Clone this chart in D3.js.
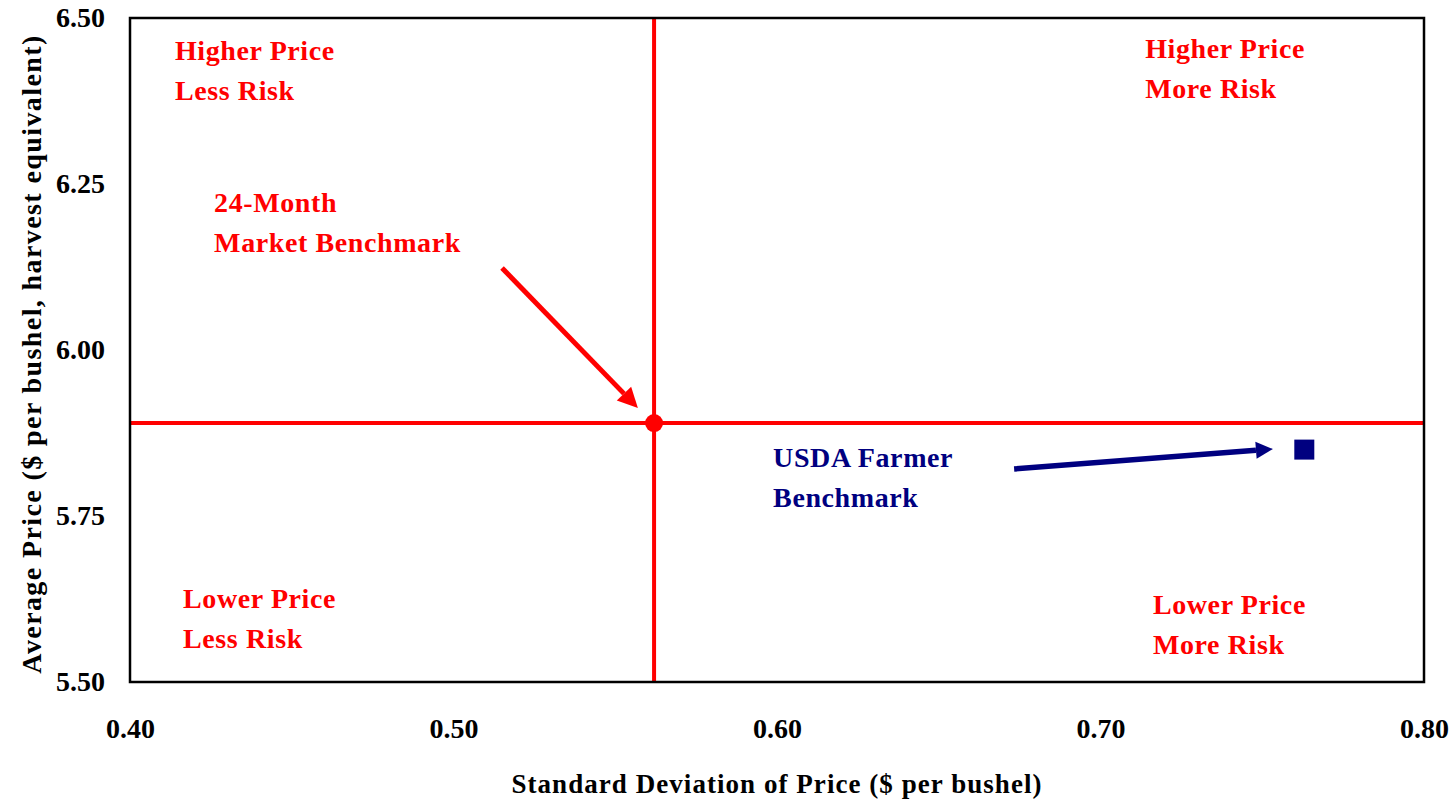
<!DOCTYPE html>
<html>
<head>
<meta charset="utf-8">
<script src="https://cdn.jsdelivr.net/npm/d3@7"></script>
<style>
  html, body { margin: 0; padding: 0; background: #fff; }
  svg { display: block; }
  text { font-family: "Liberation Serif", "Times New Roman", serif; font-weight: bold; }
</style>
</head>
<body>
<svg id="chart" width="1456" height="801"></svg>
<script>
// Axis ranges and tick labels
const xDomain = [0.40, 0.80];
const yDomain = [5.50, 6.50];
const xTicks = [0.40, 0.50, 0.60, 0.70, 0.80];
const yTicks = [5.50, 5.75, 6.00, 6.25, 6.50];

// Benchmarks: [standard deviation, average price]
const marketBenchmark = [0.562, 5.89];
const usdaBenchmark = [0.763, 5.85];

// Quadrant captions, anchored in data units (left edge, first baseline)
const quadrantLabels = [
  { lines: ["Higher Price", "Less Risk"], at: [0.4139, 6.437] },
  { lines: ["Higher Price", "More Risk"], at: [0.7138, 6.440] },
  { lines: ["Lower Price", "Less Risk"], at: [0.4164, 5.611] },
  { lines: ["Lower Price", "More Risk"], at: [0.7162, 5.602] }
];
const marketLabel = { lines: ["24-Month", "Market Benchmark"], at: [0.4260, 6.208] };
const usdaLabel = { lines: ["USDA Farmer", "Benchmark"], at: [0.5988, 5.824] };

// Pointer arrows: [from, to] in data units
const marketArrow = [[0.5150, 6.1235], [0.5570, 5.9127]];
const usdaArrow = [[0.6733, 5.8208], [0.7533, 5.8509]];

const RED = "#ff0000";
const NAVY = "#000080";

const svg = d3.select("#chart");
const plot = { left: 130, right: 1424, top: 18, bottom: 682 };

const x = d3.scaleLinear().domain(xDomain).range([plot.left, plot.right]);
const y = d3.scaleLinear().domain(yDomain).range([plot.bottom, plot.top]);

// Axes (labels only, no tick marks)
const xAxis = svg.append("g")
  .attr("transform", `translate(0,${plot.bottom})`)
  .call(d3.axisBottom(x).tickValues(xTicks).tickFormat(d3.format(".2f")).tickSize(0).tickPadding(36));
const yAxis = svg.append("g")
  .attr("transform", `translate(${plot.left},0)`)
  .call(d3.axisLeft(y).tickValues(yTicks).tickFormat(d3.format(".2f")).tickSize(0).tickPadding(25));
[xAxis, yAxis].forEach(g => {
  g.select(".domain").remove();
  g.selectAll("text")
    .attr("fill", "#000")
    .style("font-size", "28px")
    .style("font-family", '"Liberation Serif", "Times New Roman", serif')
    .style("font-weight", "bold");
});

// Axis titles
svg.append("text")
  .attr("x", (plot.left + plot.right) / 2)
  .attr("y", 793)
  .attr("text-anchor", "middle")
  .style("font-size", "27px")
  .style("letter-spacing", "1.05px")
  .text("Standard Deviation of Price ($ per bushel)");

svg.append("text")
  .attr("transform", `translate(41,${(plot.top + plot.bottom) / 2 + 4}) rotate(-90)`)
  .attr("text-anchor", "middle")
  .style("font-size", "28px")
  .style("letter-spacing", "1.4px")
  .text("Average Price ($ per bushel, harvest equivalent)");

// Quadrant dividers through the market benchmark
svg.append("line")
  .attr("x1", x(marketBenchmark[0])).attr("x2", x(marketBenchmark[0]))
  .attr("y1", plot.top).attr("y2", plot.bottom)
  .attr("stroke", RED).attr("stroke-width", 4);
svg.append("line")
  .attr("x1", plot.left).attr("x2", plot.right)
  .attr("y1", y(marketBenchmark[1])).attr("y2", y(marketBenchmark[1]))
  .attr("stroke", RED).attr("stroke-width", 4);

// Plot frame
svg.append("rect")
  .attr("x", plot.left).attr("y", plot.top)
  .attr("width", plot.right - plot.left).attr("height", plot.bottom - plot.top)
  .attr("fill", "none").attr("stroke", "#000").attr("stroke-width", 2.5);

// Benchmark markers
svg.append("circle")
  .attr("cx", x(marketBenchmark[0])).attr("cy", y(marketBenchmark[1]))
  .attr("r", 9).attr("fill", RED);
svg.append("rect")
  .attr("x", x(usdaBenchmark[0]) - 10).attr("y", y(usdaBenchmark[1]) - 10)
  .attr("width", 20).attr("height", 20).attr("fill", NAVY);

// Multi-line labels
function drawLabel(lbl, color) {
  const t = svg.append("text")
    .attr("x", x(lbl.at[0])).attr("y", y(lbl.at[1]))
    .attr("fill", color)
    .style("font-size", "28px")
    .style("letter-spacing", "0.6px");
  lbl.lines.forEach((line, i) => {
    t.append("tspan")
      .attr("x", x(lbl.at[0]))
      .attr("dy", i === 0 ? 0 : 40)
      .text(line);
  });
}
quadrantLabels.forEach(l => drawLabel(l, RED));
drawLabel(marketLabel, RED);
drawLabel(usdaLabel, NAVY);

// Arrows with filled heads
function drawArrow(seg, color, width, headLen, headWidth) {
  const [x0, y0] = [x(seg[0][0]), y(seg[0][1])];
  const [x1, y1] = [x(seg[1][0]), y(seg[1][1])];
  const ang = Math.atan2(y1 - y0, x1 - x0);
  const bx = x1 - headLen * Math.cos(ang), by = y1 - headLen * Math.sin(ang);
  svg.append("line")
    .attr("x1", x0).attr("y1", y0).attr("x2", bx).attr("y2", by)
    .attr("stroke", color).attr("stroke-width", width);
  const px = -Math.sin(ang) * headWidth / 2, py = Math.cos(ang) * headWidth / 2;
  svg.append("path")
    .attr("d", `M${x1},${y1}L${bx + px},${by + py}L${bx - px},${by - py}Z`)
    .attr("fill", color);
}
drawArrow(marketArrow, RED, 5, 20, 20);
drawArrow(usdaArrow, NAVY, 5.5, 17, 17);
</script>
</body>
</html>
